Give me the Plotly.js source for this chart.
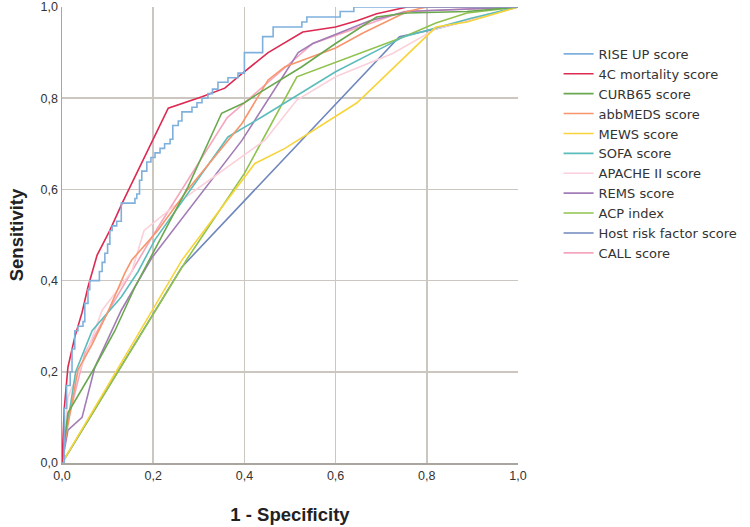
<!DOCTYPE html>
<html>
<head>
<meta charset="utf-8">
<script src="https://cdn.plot.ly/plotly-3.0.1.min.js"></script>
<style>
  html, body { margin: 0; padding: 0; background: #fff; }
  #chart { width: 750px; height: 527px; }
</style>
</head>
<body>
<div id="chart"></div>
<script>
// --- Data ---
const riseUpX = [0, 0.005, 0.01, 0.018, 0.022, 0.028, 0.035, 0.046, 0.05, 0.057, 0.061, 0.077, 0.082, 0.088, 0.094, 0.1, 0.105, 0.11, 0.12, 0.13, 0.154, 0.16, 0.164, 0.17, 0.175, 0.186, 0.195, 0.204, 0.215, 0.225, 0.237, 0.243, 0.255, 0.263, 0.285, 0.296, 0.307, 0.32, 0.33, 0.342, 0.364, 0.386, 0.40, 0.40, 0.44, 0.44, 0.46, 0.463, 0.49, 0.526, 0.537, 0.60, 0.61, 0.636, 0.64, 1];
const riseUpY = [0, 0.12, 0.17, 0.2, 0.25, 0.29, 0.30, 0.31, 0.35, 0.38, 0.40, 0.40, 0.42, 0.44, 0.46, 0.48, 0.51, 0.52, 0.53, 0.57, 0.57, 0.58, 0.59, 0.62, 0.64, 0.66, 0.67, 0.68, 0.69, 0.70, 0.71, 0.74, 0.75, 0.77, 0.78, 0.79, 0.80, 0.81, 0.82, 0.835, 0.845, 0.855, 0.86, 0.90, 0.90, 0.935, 0.935, 0.956, 0.956, 0.967, 0.978, 0.978, 0.99, 0.99, 1, 1];

const c4X = [0, 0.005, 0.013, 0.028, 0.044, 0.057, 0.077, 0.105, 0.132, 0.2, 0.233, 0.307, 0.357, 0.39, 0.452, 0.528, 0.60, 0.647, 0.69, 0.757, 1];
const c4Y = [0, 0.12, 0.21, 0.276, 0.33, 0.386, 0.456, 0.51, 0.57, 0.708, 0.778, 0.803, 0.822, 0.85, 0.90, 0.945, 0.956, 0.97, 0.985, 1, 1];

const curbX = [0, 0.013, 0.072, 0.116, 0.16, 0.21, 0.276, 0.35, 0.40, 0.43, 0.489, 0.526, 0.60, 0.69, 0.757, 0.888, 1];
const curbY = [0, 0.11, 0.21, 0.29, 0.386, 0.48, 0.605, 0.767, 0.79, 0.81, 0.846, 0.869, 0.92, 0.978, 0.987, 0.99, 1];

const abbX = [0, 0.007, 0.035, 0.066, 0.1, 0.138, 0.153, 0.21, 0.276, 0.395, 0.452, 0.489, 0.60, 0.66, 0.757, 0.8, 1];
const abbY = [0, 0.05, 0.204, 0.26, 0.33, 0.417, 0.445, 0.51, 0.60, 0.745, 0.84, 0.869, 0.91, 0.943, 0.99, 1, 1];

const mewsX = [0, 0.263, 0.423, 0.489, 0.647, 0.82, 0.888, 1];
const mewsY = [0, 0.445, 0.657, 0.69, 0.79, 0.956, 0.967, 1];

const sofaX = [0, 0.005, 0.03, 0.066, 0.13, 0.167, 0.204, 0.364, 0.44, 0.489, 0.60, 0.75, 0.895, 1];
const sofaY = [0, 0.04, 0.2, 0.29, 0.364, 0.42, 0.49, 0.715, 0.76, 0.79, 0.858, 0.935, 0.975, 1];

const apacheX = [0, 0.013, 0.05, 0.088, 0.153, 0.18, 0.263, 0.35, 0.445, 0.515, 0.60, 0.725, 0.82, 1];
const apacheY = [0, 0.145, 0.23, 0.335, 0.42, 0.51, 0.577, 0.64, 0.708, 0.796, 0.847, 0.898, 0.952, 1];

const remsX = [0, 0.013, 0.044, 0.072, 0.13, 0.197, 0.395, 0.489, 0.518, 0.55, 0.675, 0.757, 1];
const remsY = [0, 0.072, 0.10, 0.21, 0.335, 0.45, 0.708, 0.857, 0.90, 0.92, 0.97, 0.99, 1];

const acpX = [0, 0.276, 0.40, 0.489, 0.515, 0.75, 0.82, 0.888, 1];
const acpY = [0, 0.45, 0.635, 0.80, 0.847, 0.935, 0.965, 0.987, 1];

const hostX = [0, 0.263, 0.74, 0.82, 1];
const hostY = [0, 0.43, 0.935, 0.952, 1];

const callX = [0, 0.01, 0.05, 0.1, 0.2, 0.362, 0.55, 0.75, 1];
const callY = [0, 0.08, 0.24, 0.33, 0.5, 0.757, 0.92, 0.99, 1];

const seriesNames = ['RISE UP score', '4C mortality score', 'CURB65 score', 'abbMEDS score', 'MEWS score', 'SOFA score', 'APACHE II score', 'REMS score', 'ACP index', 'Host risk factor score', 'CALL score'];
const seriesX = [riseUpX, c4X, curbX, abbX, mewsX, sofaX, apacheX, remsX, acpX, hostX, callX];
const seriesY = [riseUpY, c4Y, curbY, abbY, mewsY, sofaY, apacheY, remsY, acpY, hostY, callY];
const seriesColors = ['#7fb0dc', '#dc2a52', '#6aa84f', '#f7956b', '#f7d43a', '#5cbcbc', '#fbd0da', '#a27cb6', '#8fc24d', '#6f87bd', '#f5a6bd'];
const tickVals = [0, 0.2, 0.4, 0.6, 0.8, 1];

// --- Traces (drawn in reverse so RISE UP/4C sit on top) ---
const traces = seriesNames.map((name, i) => ({
    x: seriesX[i],
    y: seriesY[i],
    name: name,
    mode: 'lines',
    line: { color: seriesColors[i], width: 1.6, shape: i === 0 ? 'hv' : 'linear' },
    legendrank: i + 1
})).reverse();

const axisCommon = {
    range: [0, 1],
    tickvals: tickVals,
    tickformat: '.1f',
    showgrid: true,
    gridcolor: '#cbc6c0',
    gridwidth: 1.5,
    zeroline: false,
    showline: true,
    linecolor: '#aaa59f',
    linewidth: 1.5,
    ticks: '',
    tickfont: { family: 'Liberation Sans, Arial, sans-serif', size: 12.5, color: '#333' },
    fixedrange: true
};

const layout = {
    width: 750,
    height: 527,
    margin: { l: 62, r: 232, t: 7, b: 64, autoexpand: false },
    paper_bgcolor: '#fff',
    plot_bgcolor: '#fff',
    separators: ',.',
    font: { family: 'Liberation Sans, Arial, sans-serif', color: '#222' },
    xaxis: Object.assign({}, axisCommon, {
        title: { text: '1 - Specificity', font: { size: 18.5, color: '#222', weight: 'bold' }, standoff: 26 }
    }),
    yaxis: Object.assign({}, axisCommon, {
        title: { text: 'Sensitivity', font: { size: 18.5, color: '#222', weight: 'bold' }, standoff: 12 }
    }),
    legend: {
        x: 1.089, y: 0.93, xanchor: 'left', yanchor: 'top',
        font: { family: 'DejaVu Sans, sans-serif', size: 13, color: '#333' },
        bgcolor: 'rgba(0,0,0,0)',
        traceorder: 'normal'
    },
    showlegend: true
};

Plotly.newPlot('chart', traces, layout, { staticPlot: true, displayModeBar: false });
</script>
</body>
</html>
